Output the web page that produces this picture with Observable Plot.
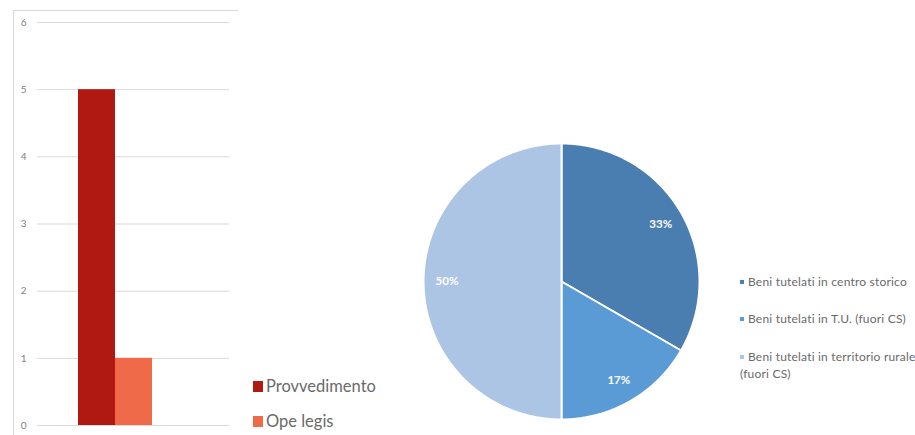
<!DOCTYPE html>
<html><head><meta charset="utf-8">
<script src="https://cdn.jsdelivr.net/npm/d3@7"></script>
<script src="https://cdn.jsdelivr.net/npm/@observablehq/plot@0.6"></script>
<style>
body{margin:0;background:#fff;font-family:Lato,"Liberation Sans",sans-serif;}
#wrap{position:relative;width:915px;height:435px;overflow:hidden;}
#frame{position:absolute;left:13px;top:10px;width:224px;height:430px;border-top:1px solid #d9d9d9;border-left:1px solid #d9d9d9;}
#bar{position:absolute;left:0;top:0;}
#pie{position:absolute;left:400px;top:0;}
.leg{position:absolute;color:#6a6a6a;white-space:nowrap;}
.sw{display:inline-block;vertical-align:middle;}
</style></head><body>
<div id="wrap"><div id="frame"></div><div id="bar"></div><div id="pie"></div></div>
<script>
// Bar chart data
const barSeries = ["Provvedimento", "Ope legis"];
const barValues = [5, 1];
const barColors = ["#b01812", "#ef6a48"];
const yTicks = [0, 1, 2, 3, 4, 5, 6];

// Pie chart data
const pieCategories = ["Beni tutelati in centro storico", "Beni tutelati in T.U. (fuori CS)", "Beni tutelati in territorio rurale (fuori CS)"];
const pieValues = [2, 1, 3];
const pieLabels = ["33%", "17%", "50%"];
const pieColors = ["#4a7db0", "#5b9bd5", "#adc5e4"];

const barData = barSeries.map((s, i) => ({series: s, value: barValues[i]}));

const bar = Plot.plot({
  width: 240, height: 435,
  marginLeft: 37, marginRight: 11, marginTop: 22, marginBottom: 10,
  x: {domain: barSeries, range: [78, 152], padding: 0, axis: null},
  y: {domain: [0, 6], ticks: yTicks, tickFormat: d3.format("d"), tickSize: 0, tickPadding: 11, label: null},
  color: {domain: barSeries, range: barColors},
  style: {fontSize: "10px", color: "#7f7f7f", fontFamily: "Lato, sans-serif"},
  marks: [
    Plot.gridY(yTicks, {stroke: "#d9d9d9", strokeOpacity: 1}),
    Plot.barY(barData, {x: "series", y: "value", fill: "series", insetLeft: 0, insetRight: 0})
  ]
});
document.getElementById("bar").appendChild(bar);

// Bar legend
barSeries.forEach((s, i) => {
  const d = document.createElement("div");
  d.className = "leg";
  d.style.left = "253px"; d.style.top = (376 + i * 35) + "px";
  d.style.fontSize = "16.5px"; d.style.lineHeight = "20px";
  d.innerHTML = `<span class="sw" style="width:10px;height:11px;background:${barColors[i]};margin-right:3px;margin-top:-2px"></span>${s}`;
  document.getElementById("wrap").appendChild(d);
});

// Pie: build slice polygons from values
const total = d3.sum(pieValues);
const pts = [];
const labelPts = [];
let acc = 0;
pieValues.forEach((v, i) => {
  const a0 = acc / total * 2 * Math.PI;
  acc += v;
  const a1 = acc / total * 2 * Math.PI;
  const n = Math.max(2, Math.ceil((a1 - a0) / (Math.PI / 180)));
  pts.push({k: i, x: 0, y: 0});
  for (let j = 0; j <= n; j++) {
    const a = a0 + (a1 - a0) * j / n;
    pts.push({k: i, x: Math.sin(a), y: Math.cos(a)});
  }
  const am = (a0 + a1) / 2;
  labelPts.push({k: i, label: pieLabels[i], x: 0.83 * Math.sin(am), y: 0.83 * Math.cos(am)});
});

const pie = Plot.plot({
  width: 330, height: 435, margin: 0,
  x: {domain: [-1, 1], range: [23, 299], axis: null},
  y: {domain: [-1, 1], range: [419, 143], axis: null},
  marks: [
    ...pieValues.map((v, i) => Plot.line(pts.filter(p => p.k === i), {
      x: "x", y: "y", fill: pieColors[i], stroke: "white", strokeWidth: 2, curve: "linear-closed", strokeLinejoin: "round"
    })),
    Plot.text(labelPts, {x: "x", y: "y", text: "label", fill: "white", fontWeight: "bold", fontSize: 11.5, fontFamily: "Lato, sans-serif"})
  ]
});
document.getElementById("pie").appendChild(pie);

// Pie legend
const legTops = [273, 310, 348];
pieCategories.forEach((c, i) => {
  const d = document.createElement("div");
  d.className = "leg";
  d.style.left = "740px"; d.style.top = legTops[i] + "px";
  d.style.fontSize = "12px"; d.style.lineHeight = "17px"; d.style.letterSpacing = "0.2px";
  d.style.whiteSpace = "normal"; d.style.width = "176px";
  d.innerHTML = `<span class="sw" style="width:4px;height:4px;background:${pieColors[i]};margin-right:4px;margin-top:-2px"></span>${c}`;
  document.getElementById("wrap").appendChild(d);
});
</script>
</body></html>
